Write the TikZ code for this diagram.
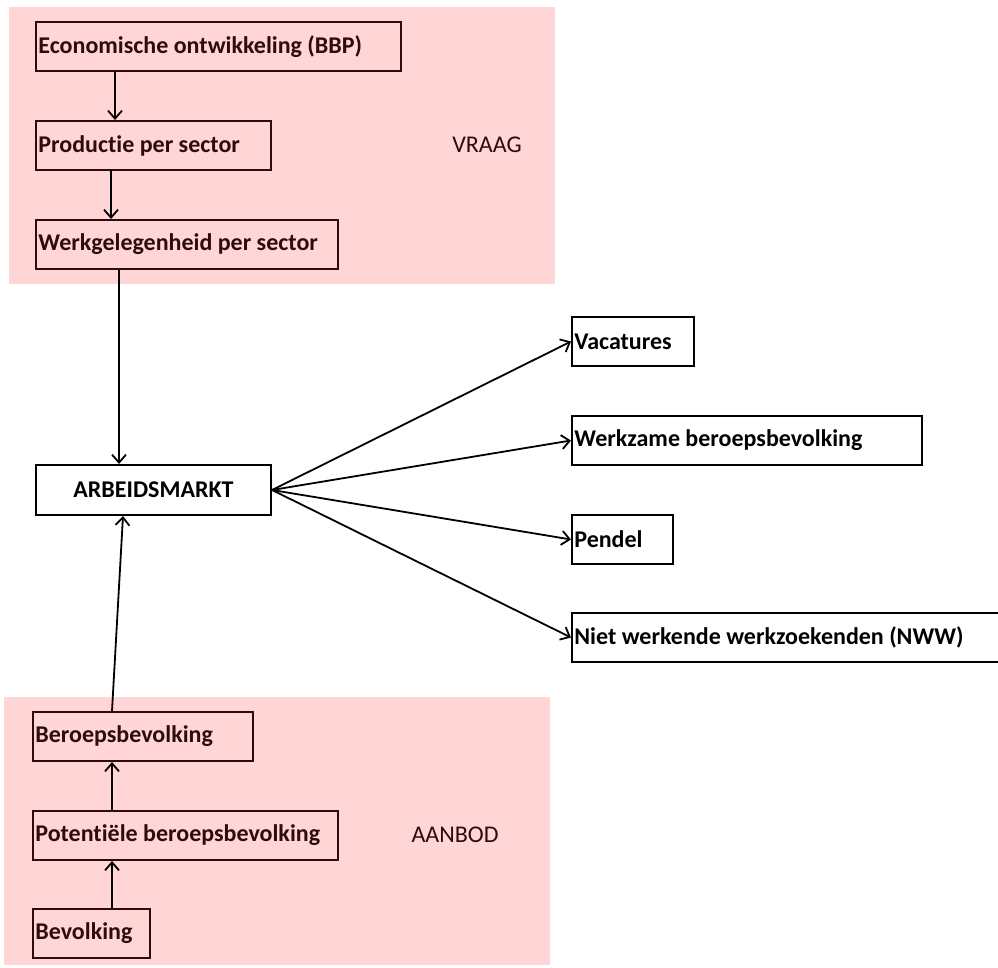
\documentclass[tikz,border=0pt]{standalone}
\usepackage{fontspec}
\setmainfont{Carlito}[Ligatures=NoCommon]
\usetikzlibrary{arrows.meta}
\definecolor{zonepink}{RGB}{255,213,213}
\definecolor{rim}{RGB}{45,12,12}
\tikzset{
  every node/.style={font=\fontsize{12}{14}\selectfont},
  box/.style={draw, line width=1pt, anchor=north west, align=left, inner xsep=1.2pt,
    minimum height=24.5pt, font=\fontsize{12}{14}\selectfont\bfseries,
    execute at begin node={\spaceskip=0pt\xspaceskip=0pt}},
  zonebox/.style={box, draw=rim, text=rim},
  arr/.style={-{Straight Barb[length=4pt,width=7pt]}, line width=0.9pt},
}
\begin{document}
\begin{tikzpicture}[x=0.5pt,y=-0.5pt]
\useasboundingbox (0,0) rectangle (998,968);
% achtergrond vraag / aanbod
\fill[zonepink] (9,7) rectangle (555,284);
\fill[zonepink] (4,697) rectangle (550,965);
\node[rim] (vraag) at (487,145) {VRAAG};
\node[rim] (aanbod) at (455,835) {AANBOD};
% vraagkant
\node[zonebox, text width=180.1pt] (eco) at (35,21) {Economische ontwikkeling (BBP)};
\node[zonebox, text width=115.1pt] (prod) at (35,120) {Productie per sector};
\node[zonebox, text width=148.6pt] (werk) at (35,219) {Werkgelegenheid per sector};
% arbeidsmarkt en uitkomsten
\node[box, align=center, text width=115.1pt, minimum height=25pt] (arb) at (35,464) {ARBEIDSMARKT};
\node[box, text width=58.6pt] (vac) at (571,316) {Vacatures};
\node[box, text width=172.6pt] (wbb) at (571,415) {Werkzame beroepsbevolking};
\node[box, text width=48.1pt] (pend) at (571,514) {Pendel};
\node[box, text width=218.6pt] (nww) at (571,612) {Niet werkende werkzoekenden (NWW)};
% aanbodkant
\node[zonebox, text width=107.6pt] (ber) at (32,711) {Beroepsbevolking};
\node[zonebox, text width=150.1pt] (pot) at (32,810) {Potentiële beroepsbevolking};
\node[zonebox, text width=56.1pt] (bev) at (32,908) {Bevolking};
% pijlen
\draw[arr] ([xshift=40pt]eco.south west) -- ([xshift=40pt]prod.north west);
\draw[arr] ([xshift=38pt]prod.south west) -- ([xshift=38pt]werk.north west);
\draw[arr] ([xshift=42pt]werk.south west) -- ([xshift=42pt]arb.north west);
\draw[arr] ([xshift=40pt]bev.north west) -- ([xshift=40pt]pot.south west);
\draw[arr] ([xshift=40pt]pot.north west) -- ([xshift=40pt]ber.south west);
\draw[arr] ([xshift=40pt]ber.north west) -- ([xshift=44pt]arb.south west);
\foreach \t in {vac,wbb,pend,nww}
  \draw[arr] (arb.east) -- (\t.west);
\end{tikzpicture}
\end{document}
